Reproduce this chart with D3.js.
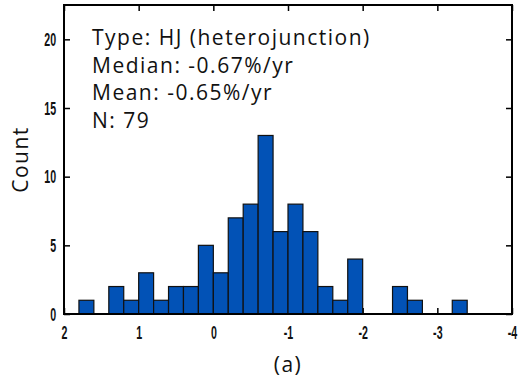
<!DOCTYPE html>
<html>
<head>
<meta charset="utf-8">
<script src="https://cdn.jsdelivr.net/npm/d3@7"></script>
<style>
  body { margin: 0; background: #fff; }
  .tick text { font-family: "Liberation Sans", "DejaVu Sans", sans-serif; font-weight: bold; font-size: 19px; }
  .note { font-family: "Open Sans", "Noto Sans", sans-serif; font-size: 21px; letter-spacing: 1.5px; fill: #111; }
</style>
</head>
<body>
<svg id="chart" width="521" height="381"></svg>
<script>
// histogram bins (left edge, right edge) in %/yr, counts per bin
var binStart = [1.8, 1.6, 1.4, 1.2, 1.0, 0.8, 0.6, 0.4, 0.2, 0.0, -0.2, -0.4, -0.6, -0.8, -1.0, -1.2, -1.4, -1.6, -1.8, -2.0, -2.2, -2.4, -2.6, -2.8, -3.0, -3.2];
var counts   = [1,   0,   2,   1,   3,   1,   2,   2,   5,   3,    7,    8,    13,   6,    8,    6,    2,    1,    4,    0,    0,    2,    1,    0,    0,    1];
var binWidth = 0.2;
var xTicks = [2, 1, 0, -1, -2, -3, -4];
var yTicks = [0, 5, 10, 15, 20];
var notes = ["Type: HJ (heterojunction)", "Median: -0.67%/yr", "Mean: -0.65%/yr", "N: 79"];

var margin = { left: 64, right: 9, top: 5, bottom: 67 };
var svg = d3.select('#chart');
var width = 521 - margin.left - margin.right;
var height = 381 - margin.top - margin.bottom;
var g = svg.append('g').attr('transform', 'translate(' + margin.left + ',' + margin.top + ')');

var x = d3.scaleLinear().domain([2, -4]).range([0, width]);
var y = d3.scaleLinear().domain([0, 22.5]).range([height, 0]);

var data = binStart.map(function (s, i) { return { x0: s, x1: s - binWidth, n: counts[i] }; })
  .filter(function (d) { return d.n > 0; });

var plain = function (d) { return String(d); };
// inner ticks first so bars cover them
function tidy(sel) { sel.select('.domain').remove(); sel.selectAll('.tick line').attr('stroke', '#000').attr('stroke-width', 1.5); }
g.append('g').attr('transform', 'translate(0,' + height + ')')
  .call(d3.axisBottom(x).tickValues(xTicks).tickSizeInner(-6).tickPadding(12).tickFormat(plain))
  .call(tidy);
g.append('g')
  .call(d3.axisTop(x).tickValues(xTicks).tickSizeInner(-6).tickFormat(''))
  .call(tidy);
g.append('g')
  .call(d3.axisLeft(y).tickValues(yTicks).tickSizeInner(-6).tickPadding(14).tickFormat(plain))
  .call(tidy);
g.append('g').attr('transform', 'translate(' + width + ',0)')
  .call(d3.axisRight(y).tickValues(yTicks).tickSizeInner(-6).tickFormat(''))
  .call(tidy);
// condensed look of the tick labels
g.selectAll('.tick text').attr('fill', '#111').attr('transform', 'scale(0.56,1)');

g.selectAll('rect.bar')
  .data(data)
  .enter().append('rect')
  .attr('class', 'bar')
  .attr('x', function (d) { return x(d.x0); })
  .attr('width', function (d) { return x(d.x1) - x(d.x0); })
  .attr('y', function (d) { return y(d.n); })
  .attr('height', function (d) { return y(0) - y(d.n); })
  .attr('fill', '#0252b6')
  .attr('stroke', '#111')
  .attr('stroke-width', 1.2);

// frame
g.append('rect').attr('width', width).attr('height', height)
  .attr('fill', 'none').attr('stroke', '#000').attr('stroke-width', 2);

g.selectAll('text.note')
  .data(notes)
  .enter().append('text')
  .attr('class', 'note')
  .attr('x', 28)
  .attr('y', function (d, i) { return 40 + i * 27.7; })
  .text(function (d) { return d; });

svg.append('text')
  .attr('class', 'note')
  .attr('transform', 'translate(28,' + (margin.top + height / 2) + ') rotate(-90)')
  .attr('text-anchor', 'middle')
  .text('Count');

svg.append('text')
  .attr('class', 'note')
  .attr('x', margin.left + width / 2)
  .attr('y', 372)
  .attr('text-anchor', 'middle')
  .text('(a)');
</script>
</body>
</html>
